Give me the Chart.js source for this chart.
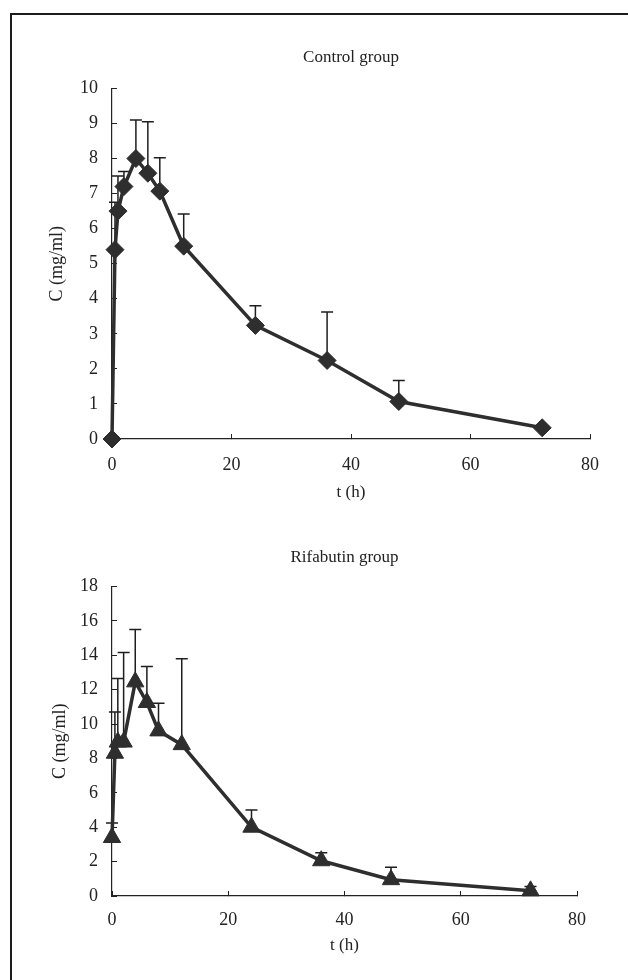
<!DOCTYPE html>
<html>
<head>
<meta charset="utf-8">
<script src="https://cdn.jsdelivr.net/npm/chart.js@4.4.1/dist/chart.umd.min.js"></script>
<style>
  body { margin: 0; background: #fff; }
  #page { position: relative; width: 628px; height: 980px; overflow: hidden; }
  #frame { position: absolute; left: 10px; top: 13px; width: 700px; height: 1000px;
           border-left: 2.5px solid #1c1c1c; border-top: 2.5px solid #1c1c1c; }
  .box { position: absolute; left: 0; width: 628px; }
</style>
</head>
<body>
<div id="page">
  <div id="frame"></div>
  <div class="box" style="top:0;height:510px"><canvas id="control"></canvas></div>
  <div class="box" style="top:510px;height:470px"><canvas id="rifabutin"></canvas></div>
</div>
<script>
// sampling times (h)
const times = [0, 0.5, 1, 2, 4, 6, 8, 12, 24, 36, 48, 72];

// control group: mean and upper SD
const controlMean = [0, 5.4, 6.5, 7.2, 8.0, 7.58, 7.07, 5.5, 3.24, 2.24, 1.07, 0.32];
const controlSD   = [0, 1.35, 1.0, 0.43, 1.1, 1.47, 0.95, 0.92, 0.56, 1.38, 0.6, 0];

// rifabutin group: mean and upper SD
const rifMean = [3.4, 8.3, 8.95, 8.95, 12.45, 11.25, 9.6, 8.8, 4.0, 2.05, 0.95, 0.3];
const rifSD   = [0.85, 2.4, 3.7, 5.2, 3.05, 2.1, 1.6, 5.0, 1.0, 0.47, 0.72, 0.25];

const xTickStep = 20, xMax = 80;

const FONT = "'Liberation Serif', 'Times New Roman', serif";
const INK = "#2e2e2e";

// draw upper error bars from the dataset's sd array
const errorBars = {
  id: "errorBars",
  beforeDatasetsDraw(chart) {
    const { ctx, scales: { x, y } } = chart;
    ctx.save();
    ctx.strokeStyle = "#1e1e1e";
    ctx.lineWidth = 1.5;
    chart.data.datasets.forEach(ds => {
      ds.sd.forEach((s, i) => {
        if (!s) return;
        const p = ds.data[i];
        const px = x.getPixelForValue(p.x);
        const y0 = y.getPixelForValue(p.y);
        const y1 = y.getPixelForValue(p.y + s);
        ctx.beginPath();
        ctx.moveTo(px, y0);
        ctx.lineTo(px, y1);
        ctx.moveTo(px - 6, y1);
        ctx.lineTo(px + 6, y1);
        ctx.stroke();
      });
    });
    ctx.restore();
  }
};

function makeChart(id, title, means, sds, style, radius, yMax, yStep, L) {
  const pts = times.map((t, i) => ({ x: t, y: means[i] }));
  return new Chart(document.getElementById(id), {
    type: "line",
    data: {
      datasets: [{
        data: pts,
        sd: sds,
        borderColor: INK,
        borderWidth: 3.5,
        backgroundColor: INK,
        pointStyle: style,
        pointRadius: radius,
        pointBorderWidth: 1,
        pointBorderColor: INK,
        pointBackgroundColor: INK,
        tension: 0,
        clip: false
      }]
    },
    options: {
      responsive: true,
      maintainAspectRatio: false,
      animation: false,
      events: [],
      layout: { padding: { left: 0, right: L.right, top: 0, bottom: 0 } },
      plugins: {
        legend: { display: false },
        tooltip: { enabled: false },
        title: {
          display: true,
          text: title,
          fullSize: false,
          color: "#222",
          font: { family: FONT, size: 17, weight: "normal" },
          padding: { top: L.titleTop, bottom: L.titleBottom }
        }
      },
      scales: {
        x: {
          type: "linear",
          min: 0, max: xMax,
          afterFit: s => { s.height = L.xHeight; },
          ticks: { stepSize: xTickStep, color: "#222", padding: L.xPad,
                   font: { family: FONT, size: 18 } },
          grid: { drawOnChartArea: false, tickLength: -5, color: "#222", tickWidth: 1 },
          border: { color: "#222", width: 1.2 },
          title: { display: true, text: "t (h)", color: "#222",
                   font: { family: FONT, size: 17 },
                   padding: { top: 0, bottom: L.xTitlePad } }
        },
        y: {
          min: 0, max: yMax,
          afterFit: s => { s.width = 112; },
          ticks: { stepSize: yStep, color: "#222", padding: 19,
                   font: { family: FONT, size: 18 } },
          grid: { drawOnChartArea: false, tickLength: -5, color: "#222", tickWidth: 1 },
          border: { color: "#222", width: 1.2 },
          title: { display: true, text: "C (mg/ml)", color: "#222",
                   font: { family: FONT, size: 18 },
                   padding: { top: L.yTitlePad, bottom: 0 } }
        }
      }
    },
    plugins: [errorBars]
  });
}

makeChart("control", "Control group", controlMean, controlSD, "rectRot", 9, 10, 1,
  { right: 38, titleTop: 47, titleBottom: 21, xHeight: 71, xPad: 20, xTitlePad: 7, yTitlePad: 46 });

makeChart("rifabutin", "Rifabutin group", rifMean, rifSD, "triangle", 10, 18, 2,
  { right: 51, titleTop: 37, titleBottom: 19, xHeight: 84, xPad: 18, xTitlePad: 24, yTitlePad: 49 });
</script>
</body>
</html>
